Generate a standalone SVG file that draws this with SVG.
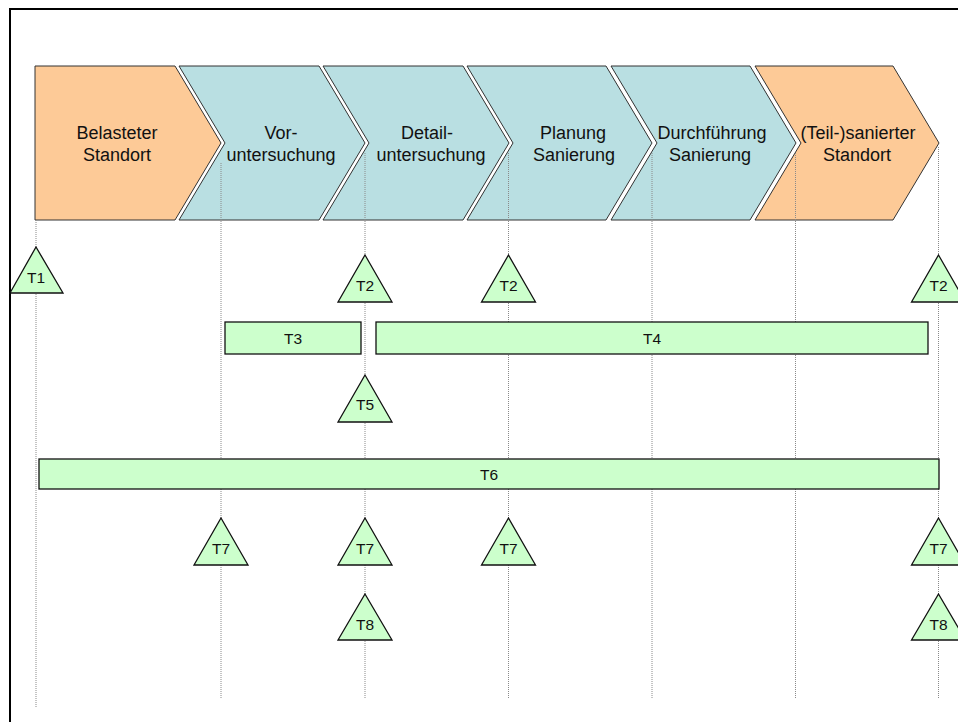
<svg xmlns="http://www.w3.org/2000/svg" width="958" height="722" viewBox="0 0 958 722">
<style>
.txt{font-family:"Liberation Sans",Arial,sans-serif;fill:#111;text-anchor:middle}
.big{font-size:18px}
.sm{font-size:15.5px}
.orange{fill:#fdca97;stroke:#333;stroke-width:1}
.teal{fill:#b9dfe2;stroke:#333;stroke-width:1}
.t{fill:#ccffcc;stroke:#111;stroke-width:1.3}
.guide{stroke:#8a8a8a;stroke-width:1;stroke-dasharray:1 1;fill:none}
</style>
<rect x="0" y="0" width="958" height="722" fill="#fff"/>
<path d="M10,722 L10,9 L958,9" fill="none" stroke="#000" stroke-width="2"/>

<g id="chevron1">
<polygon class="orange" points="35,66 175,66 221,143 175,220 35,220"/>
<text class="txt big" x="117" y="139">Belasteter</text>
<text class="txt big" x="117" y="161">Standort</text>
</g>
<g id="chevron2">
<polygon class="teal" points="179,66 319,66 365,143 319,220 179,220 225,143"/>
<text class="txt big" x="281" y="139">Vor-</text>
<text class="txt big" x="281" y="161">untersuchung</text>
</g>
<g id="chevron3">
<polygon class="teal" points="323,66 463,66 509,143 463,220 323,220 369,143"/>
<text class="txt big" x="427" y="139">Detail-</text>
<text class="txt big" x="431" y="161">untersuchung</text>
</g>
<g id="chevron4">
<polygon class="teal" points="467,66 606,66 652,143 606,220 467,220 513,143"/>
<text class="txt big" x="573" y="139">Planung</text>
<text class="txt big" x="574" y="161">Sanierung</text>
</g>
<g id="chevron5">
<polygon class="teal" points="611,66 750,66 796,143 750,220 611,220 657,143"/>
<text class="txt big" x="712" y="139">Durchführung</text>
<text class="txt big" x="710" y="161">Sanierung</text>
</g>
<g id="chevron6">
<polygon class="orange" points="755,66 893,66 939,143 893,220 755,220 801,143"/>
<text class="txt big" x="858" y="139">(Teil-)sanierter</text>
<text class="txt big" x="857" y="161">Standort</text>
</g>

<g id="connectors">
<line class="guide" x1="36" y1="220" x2="36" y2="707"/>
<line class="guide" x1="221" y1="163" x2="221" y2="699"/>
<line class="guide" x1="365" y1="153" x2="365" y2="699"/>
<line class="guide" x1="508.5" y1="153" x2="508.5" y2="699"/>
<line class="guide" x1="652" y1="153" x2="652" y2="699"/>
<line class="guide" x1="795.5" y1="153" x2="795.5" y2="699"/>
<line class="guide" x1="938.5" y1="147" x2="938.5" y2="699"/>
</g>

<g id="T1"><polygon class="t" points="36,247 63,293 10,293"/><text class="txt sm" x="36" y="283">T1</text></g>
<g id="T2a"><polygon class="t" points="365,255 392,302 338,302"/><text class="txt sm" x="365" y="291">T2</text></g>
<g id="T2b"><polygon class="t" points="508.5,255 535.5,302 481.5,302"/><text class="txt sm" x="508.5" y="291">T2</text></g>
<g id="T2c"><polygon class="t" points="938.5,255 965.5,302 911.5,302"/><text class="txt sm" x="938.5" y="291">T2</text></g>
<g id="T3"><rect class="t" x="225" y="322" width="136" height="32"/><text class="txt sm" x="293" y="344">T3</text></g>
<g id="T4"><rect class="t" x="376" y="322" width="552" height="32"/><text class="txt sm" x="652" y="344">T4</text></g>
<g id="T5"><polygon class="t" points="365,375 392,422 338,422"/><text class="txt sm" x="365" y="410">T5</text></g>
<g id="T6"><rect class="t" x="39" y="459" width="900" height="30"/><text class="txt sm" x="489" y="480">T6</text></g>
<g id="T7a"><polygon class="t" points="221,518 248,565 194,565"/><text class="txt sm" x="221" y="554">T7</text></g>
<g id="T7b"><polygon class="t" points="365,518 392,565 338,565"/><text class="txt sm" x="365" y="554">T7</text></g>
<g id="T7c"><polygon class="t" points="508.5,518 535.5,565 481.5,565"/><text class="txt sm" x="508.5" y="554">T7</text></g>
<g id="T7d"><polygon class="t" points="938.5,518 965.5,565 911.5,565"/><text class="txt sm" x="938.5" y="554">T7</text></g>
<g id="T8a"><polygon class="t" points="365,594 392,640 338,640"/><text class="txt sm" x="365" y="630">T8</text></g>
<g id="T8b"><polygon class="t" points="938.5,594 965.5,640 911.5,640"/><text class="txt sm" x="938.5" y="630">T8</text></g>
</svg>
